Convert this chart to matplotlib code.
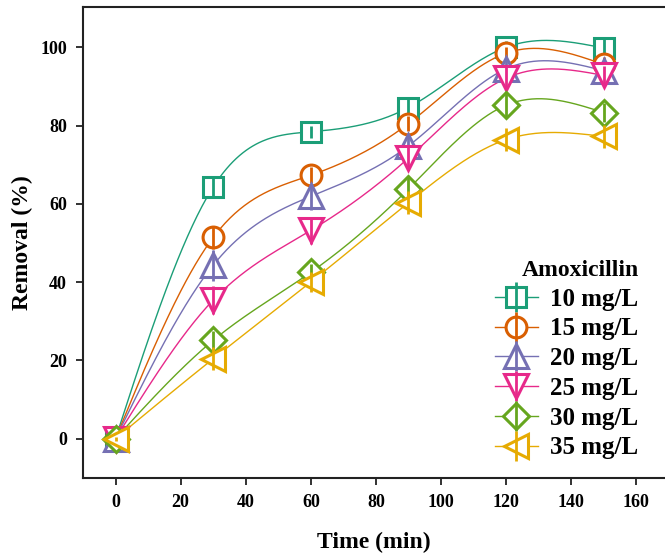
import numpy as np
import matplotlib
matplotlib.use('Agg')
import matplotlib.pyplot as plt
from matplotlib.lines import Line2D
from matplotlib.legend_handler import HandlerTuple

plt.rcParams['font.family'] = ['Liberation Serif', 'DejaVu Serif']
plt.rcParams['font.weight'] = 'bold'

# removal of amoxicillin vs. contact time, per initial concentration
time_min = [0, 30, 60, 90, 120, 150]
labels = ['10 mg/L', '15 mg/L', '20 mg/L', '25 mg/L', '30 mg/L', '35 mg/L']
removal_10 = [0, 64.3, 78.4, 84.6, 100.0, 99.8]
removal_15 = [0, 51.4, 67.3, 80.5, 98.5, 95.6]
removal_20 = [0, 44.3, 61.9, 74.8, 94.5, 94.0]
removal_25 = [0, 35.4, 53.2, 71.7, 92.1, 92.8]
removal_30 = [0, 25.1, 42.5, 63.8, 85.2, 83.3]
removal_35 = [0, 20.4, 40.0, 60.3, 76.4, 77.2]
err_10 = [0.5, 2.5, 1.5, 2.5, 1.5, 2.5]
err_15 = [0.5, 3.0, 2.0, 2.0, 1.5, 2.0]
err_20 = [0.5, 4.0, 3.5, 3.0, 2.5, 2.5]
err_25 = [0.5, 3.5, 3.5, 3.0, 3.0, 2.5]
err_30 = [0.5, 2.5, 2.0, 3.0, 3.0, 2.5]
err_35 = [0.5, 3.0, 2.5, 3.0, 3.0, 3.0]

removals = [removal_10, removal_15, removal_20, removal_25, removal_30, removal_35]
errors = [err_10, err_15, err_20, err_25, err_30, err_35]
colors = ['#1b9e77', '#d95f02', '#7570b3', '#e7298a', '#66a61e', '#e6ab02']
markers = ['s', 'o', '^', 'v', 'D', '<']
msizes = [14, 15, 17, 17, 13.5, 17]


def natural_spline(x, y, n=300):
    x = np.asarray(x, float)
    y = np.asarray(y, float)
    k = len(x)
    h = np.diff(x)
    A = np.zeros((k, k))
    rhs = np.zeros(k)
    A[0, 0] = A[-1, -1] = 1
    for i in range(1, k - 1):
        A[i, i - 1] = h[i - 1]
        A[i, i] = 2 * (h[i - 1] + h[i])
        A[i, i + 1] = h[i]
        rhs[i] = 3 * ((y[i + 1] - y[i]) / h[i] - (y[i] - y[i - 1]) / h[i - 1])
    c = np.linalg.solve(A, rhs)
    xs = np.linspace(x[0], x[-1], n)
    idx = np.clip(np.searchsorted(x, xs, side='right') - 1, 0, k - 2)
    t = xs - x[idx]
    hi = h[idx]
    b = (y[idx + 1] - y[idx]) / hi - hi * (2 * c[idx] + c[idx + 1]) / 3
    d = (c[idx + 1] - c[idx]) / (3 * hi)
    ys = y[idx] + b * t + c[idx] * t ** 2 + d * t ** 3
    return xs, ys


fig = plt.figure(figsize=(6.65, 5.59), dpi=100)
ax = fig.add_axes([0.1248, 0.1454, 0.8752, 0.8415])

handles = []
for i, (yv, ev) in enumerate(zip(removals, errors)):
    xs, ys = natural_spline(time_min, yv)
    ax.plot(xs, ys, color=colors[i], lw=1.0, zorder=2)
for i, (yv, ev) in enumerate(zip(removals, errors)):
    ax.plot(time_min, yv, ls='none', marker=markers[i], ms=msizes[i],
            mfc='white', mec=colors[i], mew=2.2, zorder=3)
    ax.vlines(time_min, np.array(yv) - np.array(ev), np.array(yv) + np.array(ev),
              color=colors[i], lw=2.0, zorder=3)
    ln = Line2D([], [], color=colors[i], lw=1.0)
    mk = Line2D([], [], ls='none', marker=markers[i], ms=msizes[i],
                mfc='white', mec=colors[i], mew=2.2)
    bar = Line2D([], [], ls='none', marker='|', ms=22, mew=2.0, color=colors[i])
    handles.append((ln, mk, bar))

ax.set_xlim(-10, 168.8)
ax.set_ylim(-10, 110.2)
ax.set_xticks(np.arange(0, 161, 20))
ax.set_yticks(np.arange(0, 101, 20))
ax.spines['right'].set_visible(False)
for s in ['left', 'bottom', 'top']:
    ax.spines[s].set_linewidth(1.5)
    ax.spines[s].set_color('#222222')
ax.tick_params(direction='out', length=5, width=1.3, labelsize=13, pad=6.5,
               top=False, right=False, colors='#222222', labelcolor='black')
ax.set_xlabel('Time (min)', fontsize=17, fontweight='bold', labelpad=15)
ax.set_ylabel('Removal (%)', fontsize=17, fontweight='bold', labelpad=5)

leg = ax.legend(handles, labels, handler_map={tuple: HandlerTuple(ndivide=1)},
                title='Amoxicillin', title_fontproperties={'weight': 'bold', 'size': 17},
                prop={'weight': 'bold', 'size': 18}, frameon=False,
                loc='upper left', bbox_to_anchor=(495 / 665, 1 - 260 / 559),
                bbox_transform=fig.transFigure, borderpad=0, borderaxespad=0,
                handlelength=1.7, handletextpad=0.52, labelspacing=0.27,
                numpoints=1, alignment='right')

fig.savefig('out.png', dpi=100)
